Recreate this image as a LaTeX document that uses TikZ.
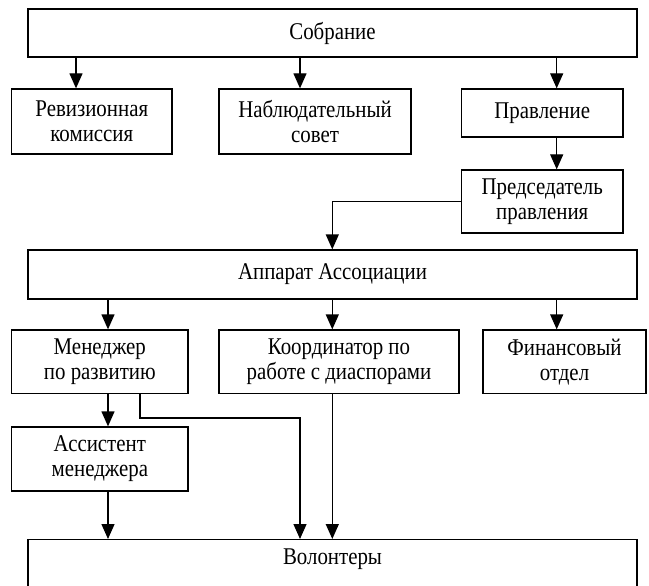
\documentclass[tikz,border=0pt]{standalone}
\usepackage{fontspec}
\setmainfont{Liberation Serif}
\newfontfamily\boxfont[FakeStretch=0.87]{Liberation Serif}
\usetikzlibrary{arrows.meta}
\begin{document}
\begin{tikzpicture}[x=1pt,y=-1pt,
  box/.style={draw, line width=1.3pt, rectangle, inner sep=0pt, align=center,
    font=\boxfont\fontsize{24}{25}\selectfont},
  arr/.style={line width=1.3pt, -{Triangle[width=13pt,length=15pt]}}]
\useasboundingbox (0,0) rectangle (649,586);
\begin{scope}
\clip (0,0) rectangle (649,586);
\node[box, minimum width=609pt, minimum height=48pt] (sob) at (332.5,33) {Собрание};
\node[box, minimum width=160.4pt, minimum height=65pt] (rev) at (91.8,121.5) {Ревизионная\\комиссия};
\node[box, minimum width=192pt, minimum height=65pt] (nab) at (315,121.5) {Наблюдательный\\совет};
\node[box, minimum width=161.5pt, minimum height=48pt] (prav) at (542.25,113) {Правление};
\node[box, minimum width=161.5pt, minimum height=63pt] (pred) at (542.25,201.5) {Председатель\\правления};
\node[box, minimum width=609pt, minimum height=49pt] (app) at (332.5,274.5) {Аппарат Ассоциации};
\node[box, minimum width=176.4pt, minimum height=63.5pt] (men) at (99.8,361.75) {Менеджер\\по развитию};
\node[box, minimum width=240pt, minimum height=63.5pt] (koord) at (339,361.75) {Координатор по\\работе с диаспорами};
\node[box, minimum width=163pt, minimum height=63.5pt] (fin) at (564.5,361.75) {Финансовый\\отдел};
\node[box, minimum width=176.4pt, minimum height=64pt] (ass) at (99.8,459) {Ассистент\\менеджера};
\node[box, anchor=north, minimum width=609pt, inner ysep=6pt, text height=19pt, text depth=30pt] (vol) at (332.5,539) {Волонтеры};

\draw[arr] (76,0 |- sob.south) -- (76,0 |- rev.north);
\draw[arr] (300,0 |- sob.south) -- (300,0 |- nab.north);
\draw[arr] (556.7,0 |- sob.south) -- (556.7,0 |- prav.north);
\draw[arr] (556.7,0 |- prav.south) -- (556.7,0 |- pred.north);
\draw[arr] (pred.west) -| (332.3,0 |- app.north);
\draw[arr] (108,0 |- app.south) -- (108,0 |- men.north);
\draw[arr] (332.3,0 |- app.south) -- (332.3,0 |- koord.north);
\draw[arr] (556.7,0 |- app.south) -- (556.7,0 |- fin.north);
\draw[arr] (108,0 |- men.south) -- (108,0 |- ass.north);
\draw[arr] (140,0 |- men.south) -- (140,418) -| (300,0 |- vol.north);
\draw[arr] (332.3,0 |- koord.south) -- (332.3,0 |- vol.north);
\draw[arr] (108,0 |- ass.south) -- (108,0 |- vol.north);
\end{scope}
\end{tikzpicture}
\end{document}
